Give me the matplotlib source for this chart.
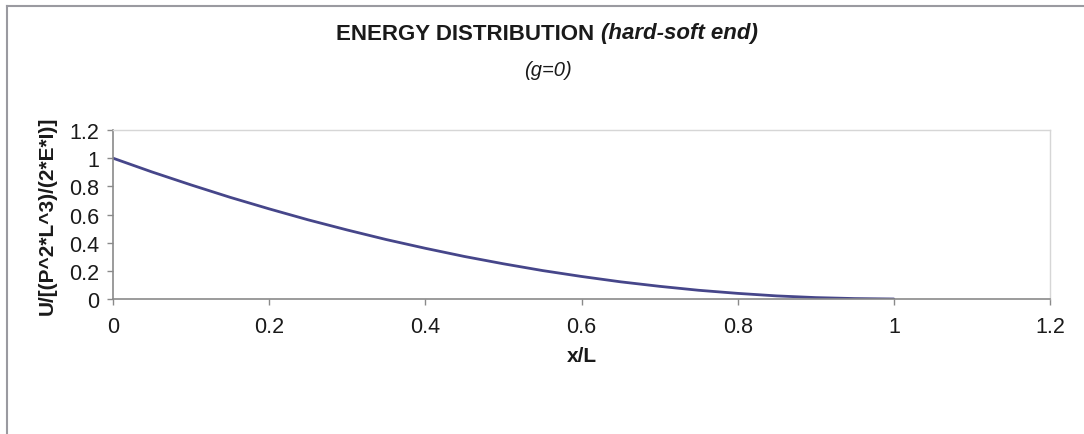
import matplotlib
matplotlib.use("Agg")
import matplotlib.pyplot as plt
from matplotlib.lines import Line2D

# Normalised strain energy along the beam
x_over_L = [0.0, 0.05, 0.10, 0.15, 0.20, 0.25, 0.30, 0.35, 0.40, 0.45, 0.50,
            0.55, 0.60, 0.65, 0.70, 0.75, 0.80, 0.85, 0.90, 0.95, 1.00]
energy = [1.000, 0.902, 0.810, 0.722, 0.640, 0.562, 0.490, 0.422, 0.360, 0.302, 0.250,
          0.202, 0.160, 0.122, 0.090, 0.062, 0.040, 0.022, 0.010, 0.003, 0.000]

x_ticks = [0, 0.2, 0.4, 0.6, 0.8, 1, 1.2]
y_ticks = [0, 0.2, 0.4, 0.6, 0.8, 1, 1.2]
x_tick_labels = ["0", "0.2", "0.4", "0.6", "0.8", "1", "1.2"]
y_tick_labels = ["0", "0.2", "0.4", "0.6", "0.8", "1", "1.2"]

plt.rcParams["font.family"] = ["Liberation Sans", "DejaVu Sans"]

fig = plt.figure(figsize=(10.84, 4.35), dpi=100)
fig.patch.set_facecolor("white")

ax = fig.add_axes([113 / 1084, 1 - 300 / 435, (1050 - 113) / 1084, (300 - 131) / 435])
ax.plot(x_over_L, energy, color="#46468a", linewidth=2.0, solid_capstyle="round")

ax.set_xlim(0, 1.2)
ax.set_ylim(0, 1.2)
ax.set_xticks(x_ticks)
ax.set_xticklabels(x_tick_labels)
ax.set_yticks(y_ticks)
ax.set_yticklabels(y_tick_labels)
ax.tick_params(axis="both", direction="out", length=4, width=1, color="#8a8a8a",
               labelsize=15.5, labelcolor="#1a1a1a")
ax.tick_params(axis="x", pad=8)
ax.tick_params(axis="y", pad=6)

for side in ("left", "bottom"):
    ax.spines[side].set_color("#8a8a8a")
    ax.spines[side].set_linewidth(1.2)
for side in ("top", "right"):
    ax.spines[side].set_color("#d6d6d6")
    ax.spines[side].set_linewidth(1.0)

ax.set_xlabel("x/L", fontsize=15, fontweight="bold", labelpad=7, color="#1a1a1a")
ax.set_ylabel("U/[(P^2*L^3)/(2*E*I)]", fontsize=15, fontweight="bold",
              labelpad=9, color="#1a1a1a")

# Chart title: bold heading with an italic qualifier, then the parameter line
title_y = 1 - 34 / 435
t1 = fig.text(0.5, title_y, "ENERGY DISTRIBUTION ", ha="right", va="center",
              fontsize=16, fontweight="bold", color="#1a1a1a")
t2 = fig.text(0.5, title_y, "(hard-soft end)", ha="left", va="center",
              fontsize=16, fontweight="bold", style="italic", color="#1a1a1a")
fig.canvas.draw()
w1 = t1.get_window_extent().width
w2 = t2.get_window_extent().width
center = 547 / 1084
total = (w1 + w2) / fig.bbox.width
split = center - total / 2 + w1 / fig.bbox.width
t1.set_x(split)
t2.set_x(split)

fig.text(548 / 1084, 1 - 70 / 435, "(g=0)", ha="center", va="center",
         fontsize=14.5, style="italic", color="#1a1a1a")

# Outer chart frame (left and top edges)
fig.add_artist(Line2D([7 / 1084, 7 / 1084], [0, 1 - 7 / 435], transform=fig.transFigure,
                      color="#9a9aa0", linewidth=1.5))
fig.add_artist(Line2D([7 / 1084, 1], [1 - 7 / 435, 1 - 7 / 435], transform=fig.transFigure,
                      color="#9a9aa0", linewidth=1.5))

fig.savefig("out.png", dpi=100, facecolor="white")
